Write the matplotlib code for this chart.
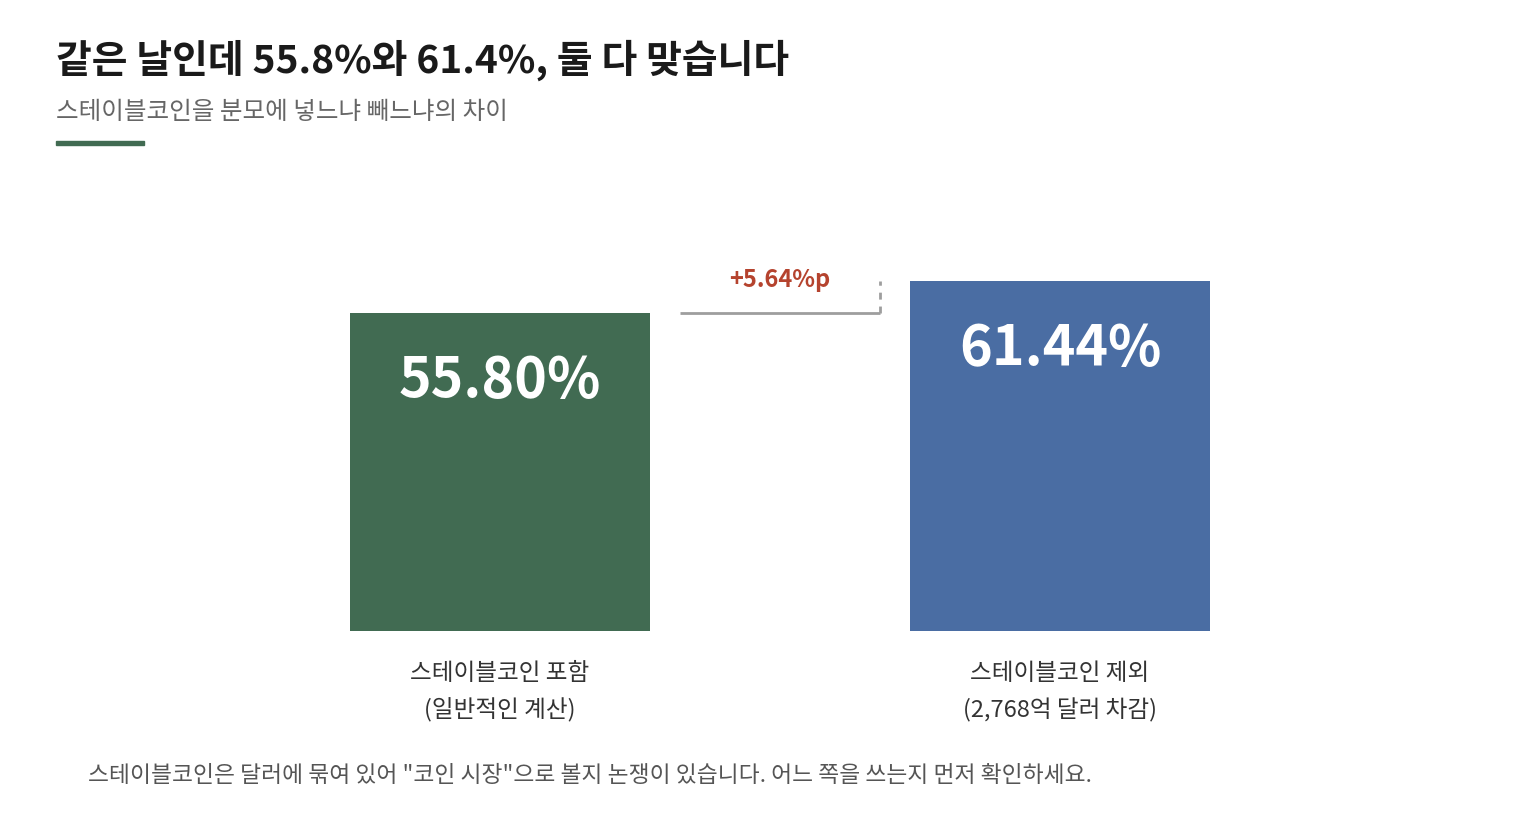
import matplotlib
matplotlib.use('Agg')
import matplotlib.pyplot as plt

plt.rcParams['font.family'] = ['Noto Sans CJK KR', 'DejaVu Sans']

# 데이터
categories = ['스테이블코인 포함\n(일반적인 계산)', '스테이블코인 제외\n(2,768억 달러 차감)']
values = [55.80, 61.44]
value_labels = ['55.80%', '61.44%']
diff_label = '+5.64%p'
colors = ['#416b52', '#4a6da3']

fig = plt.figure(figsize=(15.2, 8.4), dpi=100)
fig.patch.set_facecolor('white')

# 막대 영역 (x: 220~1340 px, 바닥 631 px)
ax = fig.add_axes([220 / 1520, 209 / 840, 1120 / 1520, 70 * 5.697 / 840])
x = range(len(values))
ax.bar(x, values, width=300 / 560, color=colors, zorder=2)
ax.set_xlim(-0.5, 1.5)
ax.set_ylim(0, 70)

for xi, v, lab in zip(x, values, value_labels):
    ax.annotate(lab, (xi, v), xytext=(0, -49), textcoords='offset points',
                ha='center', va='center', color='white', fontsize=40,
                fontweight='bold')

# 차이 표시 괄호
x0, x1 = (680 - 500) / 560, (880 - 500) / 560
ax.plot([x0, x1], [values[0], values[0]], color='#9e9e9e', lw=2, solid_capstyle='butt')
ax.plot([x1, x1], [values[0], values[1]], color='#9e9e9e', lw=2, ls=(0, (2.5, 2.5)))
ax.annotate(diff_label, (0.5, values[1]), xytext=(0, 1), textcoords='offset points',
            ha='center', va='center', color='#b5432e', fontsize=17, fontweight='bold')

ax.set_xticks(list(x))
ax.set_xticklabels(categories, fontsize=17, color='#333333', linespacing=1.66)
ax.tick_params(axis='x', length=0, pad=22.5)
ax.set_yticks([])
for s in ax.spines.values():
    s.set_visible(False)

# 제목과 부제
fig.text(56 / 1520, 1 - 60 / 840, '같은 날인데 55.8%와 61.4%, 둘 다 맞습니다',
         fontsize=28, fontweight='bold', color='#1a1a1a', va='center', ha='left')
fig.text(56 / 1520, 1 - 112 / 840, '스테이블코인을 분모에 넣느냐 빼느냐의 차이',
         fontsize=17.7, color='#666666', va='center', ha='left')
fig.add_artist(plt.Rectangle((56 / 1520, 1 - 145 / 840), 88 / 1520, 4 / 840,
                             color='#416b52', transform=fig.transFigure))

fig.text(88 / 1520, 1 - 776 / 840,
         '스테이블코인은 달러에 묶여 있어 "코인 시장"으로 볼지 논쟁이 있습니다. 어느 쪽을 쓰는지 먼저 확인하세요.',
         fontsize=16.4, color='#555555', va='center', ha='left')

fig.savefig('out.png', dpi=100, facecolor='white')
